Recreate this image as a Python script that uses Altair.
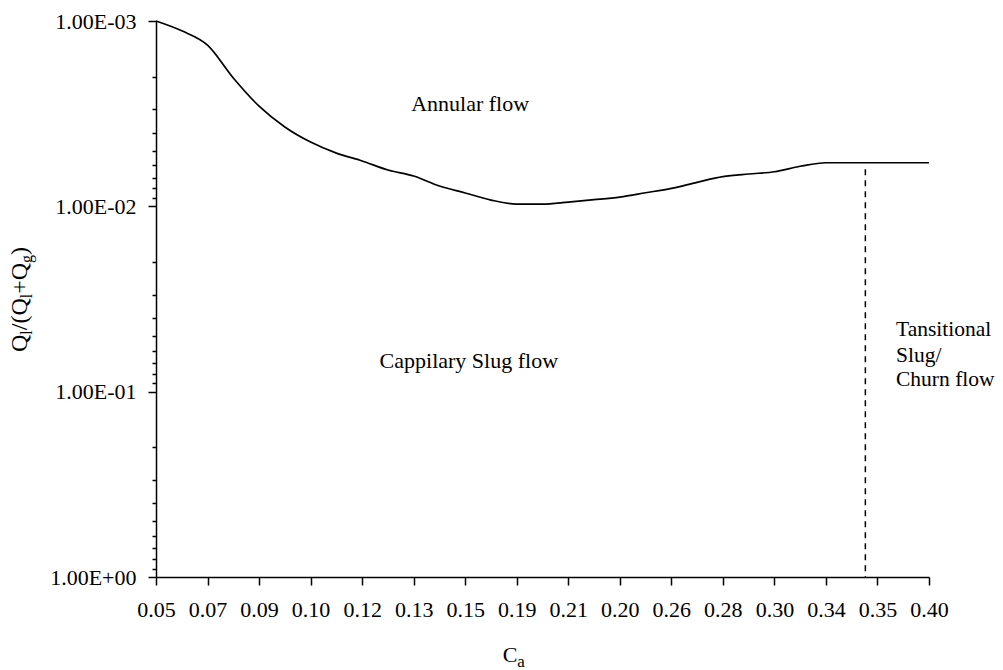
import altair as alt
import pandas as pd

# ---- data ----
# 31 categories of Ca; only every other one is labelled on the axis
x_tick_labels = ["0.05", "0.07", "0.09", "0.10", "0.12", "0.13", "0.15", "0.19",
                 "0.21", "0.20", "0.26", "0.28", "0.30", "0.34", "0.35", "0.40"]
cat_index = list(range(31))
ratio = [1.00e-3, 1.13e-3, 1.35e-3, 2.03e-3, 2.88e-3, 3.73e-3, 4.50e-3, 5.16e-3,
         5.69e-3, 6.37e-3, 6.86e-3, 7.77e-3, 8.47e-3, 9.25e-3, 9.72e-3, 9.72e-3,
         9.48e-3, 9.21e-3, 8.91e-3, 8.45e-3, 8.00e-3, 7.42e-3, 6.92e-3, 6.69e-3,
         6.51e-3, 6.08e-3, 5.82e-3, 5.82e-3, 5.82e-3, 5.82e-3, 5.82e-3]

y_major = [0.001, 0.01, 0.1, 1]
y_labels = ["1.00E-03", "1.00E-02", "1.00E-01", "1.00E+00"]
y_minor = [round(k * 10.0 ** e, 6) for e in (-3, -2, -1) for k in range(2, 10)]

# dashed boundary (category position, top value, bottom value)
boundary_x = [27.53]
boundary_top = [6.3e-3]
boundary_bottom = [1.0]

# region annotations (category position, value at text baseline)
center_notes = ["Annular flow", "Cappilary Slug flow"]
center_x = [12.19, 12.14]
center_y = [3.05e-3, 0.0746]
left_notes = ["Tansitional", "Slug/", "Churn flow"]
left_x = [28.72, 28.72, 28.72]
left_y = [0.0501, 0.0688, 0.0927]

FONT = "Liberation Serif"

df = pd.DataFrame({"idx": cat_index, "ratio": ratio})

label_arr = "[" + ",".join("'%s'" % s for s in x_tick_labels) + "]"
x_label_expr = label_arr + "[round(datum.value / 2)]"

y_label_expr = ""
for v, s in zip(y_major, y_labels):
    y_label_expr += "datum.value == %r ? '%s' : " % (v, s)
y_label_expr += "''"
major_test = " || ".join("datum.value == %r" % v for v in y_major)

x_scale = alt.Scale(domain=[0, 30], nice=False, zero=False)
y_scale = alt.Scale(type="log", domain=[0.001, 1], reverse=True, nice=False)

x_axis = alt.Axis(values=list(range(0, 31, 2)), labelExpr=x_label_expr, title=None,
                  grid=False, domainColor="black", domainWidth=1.5, tickColor="black",
                  tickWidth=1.5, tickSize=8, labelFont=FONT, labelFontSize=22,
                  labelColor="black", labelPadding=14, labelFlush=False,
                  labelOverlap=False, labelAngle=0)
y_axis = alt.Axis(values=y_major + y_minor, labelExpr=y_label_expr, title=None,
                  grid=False, domainColor="black", domainWidth=1.5, tickColor="black",
                  tickWidth=1.5,
                  tickSize={"condition": {"test": major_test, "value": 8}, "value": 4},
                  labelFont=FONT, labelFontSize=22, labelColor="black",
                  labelPadding=12, labelFlush=False, labelOverlap=False)

line = alt.Chart(df).mark_line(color="black", strokeWidth=1.7, interpolate="monotone").encode(
    x=alt.X("idx:Q", scale=x_scale, axis=x_axis),
    y=alt.Y("ratio:Q", scale=y_scale, axis=y_axis),
)

bdf = pd.DataFrame({"x": boundary_x, "y": boundary_top, "y2": boundary_bottom})
rule = alt.Chart(bdf).mark_rule(color="black", strokeWidth=1.5, strokeDash=[6, 5]).encode(
    x=alt.X("x:Q", scale=x_scale),
    y=alt.Y("y:Q", scale=y_scale),
    y2="y2:Q",
)

cdf = pd.DataFrame({"t": center_notes, "x": center_x, "y": center_y})
ctext = alt.Chart(cdf).mark_text(font=FONT, fontSize=22, color="black", align="center",
                                 baseline="alphabetic").encode(
    x=alt.X("x:Q", scale=x_scale), y=alt.Y("y:Q", scale=y_scale), text="t:N")

ldf = pd.DataFrame({"t": left_notes, "x": left_x, "y": left_y})
ltext = alt.Chart(ldf).mark_text(font=FONT, fontSize=21.5, color="black", align="left",
                                 baseline="alphabetic").encode(
    x=alt.X("x:Q", scale=x_scale), y=alt.Y("y:Q", scale=y_scale), text="t:N")

# ---- axis titles with subscripts, composed from pieces ----
W = {"Q": 0.722, "l": 0.278, "/": 0.278, "(": 0.333, ")": 0.333, "+": 0.564,
     "g": 0.5, "C": 0.667, "a": 0.444}
MAIN, SUB = 24, 16
ytitle = [("Q", False), ("l", True), ("/", False), ("(", False), ("Q", False),
          ("l", True), ("+", False), ("Q", False), ("g", True), (")", False)]
rows = []
ypos = 331.0
for ch, sub in ytitle:
    fs = SUB if sub else MAIN
    rows.append({"t": ch, "px": -129.0 + (5 if sub else 0), "py": ypos, "fs": fs})
    ypos -= W[ch] * fs
ydf = pd.DataFrame(rows)
ytitle_mark = alt.Chart(ydf).mark_text(font=FONT, color="black", align="left",
                                       baseline="alphabetic", angle=270).encode(
    x=alt.X("px:Q", scale=None), y=alt.Y("py:Q", scale=None),
    size=alt.Size("fs:Q", scale=None), text="t:N")

xrows = [{"t": "C", "px": 346.7, "py": 641.3, "fs": 22},
         {"t": "a", "px": 346.7 + W["C"] * 22, "py": 645.5, "fs": 17}]
xdf = pd.DataFrame(xrows)
xtitle_mark = alt.Chart(xdf).mark_text(font=FONT, color="black", align="left",
                                       baseline="alphabetic").encode(
    x=alt.X("px:Q", scale=None), y=alt.Y("py:Q", scale=None),
    size=alt.Size("fs:Q", scale=None), text="t:N")

chart = alt.layer(line, rule, ctext, ltext, ytitle_mark, xtitle_mark).properties(
    width=773, height=556,
    autosize=alt.AutoSizeParams(type="none"),
    padding={"left": 148, "top": 13, "right": 66, "bottom": 92},
    background="white",
).configure_view(stroke=None)

chart.save("out.html", embed_options={"renderer": "svg", "actions": False})
